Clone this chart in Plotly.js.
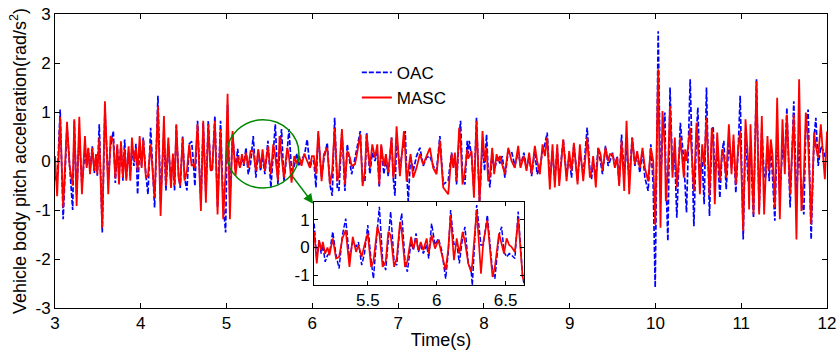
<!DOCTYPE html>
<html>
<head>
<meta charset="utf-8">
<script src="https://cdn.plot.ly/plotly-3.0.1.min.js"></script>
<style>html,body{margin:0;padding:0;background:#fff;}#chart{width:838px;height:350px;}</style>
</head>
<body>
<div id="chart"></div>
<script>
// ---- main plot data (time in s, pitch acceleration in rad/s^2) ----
const time = [
 3.000, 3.025, 3.060, 3.095, 3.140, 3.170, 3.206, 3.225, 3.252, 3.283,
 3.314, 3.349, 3.369, 3.388, 3.408, 3.435, 3.458, 3.478, 3.493, 3.516,
 3.551, 3.582, 3.621, 3.648, 3.680, 3.703, 3.726, 3.746, 3.769, 3.792,
 3.812, 3.831, 3.858, 3.878, 3.897, 3.920, 3.944, 3.963, 3.987, 4.010,
 4.029, 4.060, 4.084, 4.115, 4.161, 4.200, 4.231, 4.270, 4.293, 4.321,
 4.352, 4.375, 4.394, 4.414, 4.441, 4.460, 4.488, 4.511, 4.538, 4.565,
 4.593,
 4.612, 4.631, 4.662, 4.701, 4.728, 4.759, 4.787, 4.814, 4.833, 4.864,
 4.895, 4.930, 4.961, 4.989, 5.012, 5.039, 5.070, 5.105, 5.129, 5.156,
 5.179, 5.202, 5.226, 5.253, 5.280, 5.311, 5.342, 5.369, 5.397, 5.420,
 5.447, 5.482, 5.517, 5.544, 5.568, 5.599, 5.618, 5.641, 5.669, 5.707,
 5.727, 5.758, 5.789, 5.816, 5.847, 5.874, 5.906, 5.940, 5.972, 5.995,
 6.018, 6.042, 6.069,
 6.108, 6.135, 6.174, 6.205, 6.232, 6.260, 6.291, 6.310, 6.345, 6.380,
 6.407, 6.438, 6.458, 6.497, 6.516, 6.559, 6.586, 6.613, 6.633, 6.671,
 6.699, 6.730, 6.757, 6.780, 6.803, 6.834, 6.858, 6.885, 6.924, 6.943,
 6.963, 6.982, 7.021, 7.040, 7.068, 7.083, 7.099, 7.118, 7.145, 7.176,
 7.215, 7.254, 7.293, 7.332, 7.371, 7.409, 7.448, 7.487, 7.526, 7.584,
 7.623, 7.643, 7.662, 7.681, 7.712, 7.728, 7.751, 7.779, 7.806, 7.817,
 7.829, 7.856, 7.884, 7.914, 7.949, 7.984, 8.008, 8.031, 8.050, 8.070,
 8.097, 8.120, 8.148, 8.167, 8.186, 8.214, 8.245, 8.284, 8.322, 8.361,
 8.400, 8.427, 8.466, 8.497, 8.528, 8.556, 8.594, 8.621, 8.653, 8.684,
 8.711, 8.738, 8.769, 8.800, 8.827, 8.855, 8.878, 8.925, 8.964, 8.994,
 9.022, 9.049, 9.092, 9.119, 9.158,
 9.204, 9.236, 9.255, 9.274, 9.305, 9.333, 9.360, 9.383, 9.418, 9.449,
 9.469, 9.500, 9.527, 9.554, 9.577, 9.605, 9.636, 9.663, 9.694, 9.729,
 9.760, 9.787, 9.818, 9.849, 9.877, 9.915, 9.946, 9.974, 9.997, 10.032,
 10.059, 10.082, 10.110, 10.121, 10.145, 10.170, 10.199, 10.226, 10.249, 10.290,
 10.331, 10.347, 10.362, 10.405, 10.448, 10.479, 10.494, 10.518, 10.545, 10.568,
 10.595, 10.630, 10.657, 10.673, 10.692, 10.720, 10.751, 10.778, 10.797, 10.825,
 10.856, 10.887, 10.910, 10.937, 10.964, 10.988, 11.023, 11.050, 11.081, 11.092,
 11.108, 11.143, 11.178, 11.209, 11.240, 11.267, 11.287, 11.306, 11.326, 11.345,
 11.364, 11.392, 11.419, 11.450, 11.481, 11.508, 11.532, 11.570, 11.613, 11.644,
 11.675, 11.702, 11.730, 11.753, 11.780, 11.815, 11.850, 11.870, 11.897, 11.928,
 11.963, 11.975, 12.000
];
const oac = [
 -0.30, -0.45, 1.05, -1.19, 0.70, -0.10, -1.00, 0.82, -0.70, 0.55,
 -0.50, 0.20, -0.10, 0.25, -0.20, 0.30, -0.25, 0.10, -0.30, 0.75,
 -1.46, 1.05, -0.40, 0.30, 0.61, -0.45, 0.30, -0.30, 0.35, -0.40,
 0.44, -0.35, 0.20, -0.30, 0.30, -0.10, 0.35, -0.68, 0.30, -0.10,
 0.48, -0.30, -0.68, 0.68, -0.95, 1.33, -0.82, 0.60, -0.60, 0.35,
 -0.45, 0.10, -0.60, 0.72, -0.30, -0.55, 0.50, -0.35, -0.60, 0.35,
 0.40,
 0.00, -0.51, 0.82, -0.88, 0.78, -0.70, 0.82, -0.14, -0.20, 0.92,
 -0.95, 0.82, -0.85, -1.46, 1.15, -0.80, 0.55, -0.20, 0.25, -0.14,
 0.05, -0.10, 0.27, -0.27, -0.05, 0.51, -0.34, 0.20, -0.20, 0.10,
 -0.27, 0.41, -0.54, 0.10, 0.75, -0.48, 0.20, 0.65, -0.41, 0.20,
 0.65, -0.20, -0.10, 0.15, -0.10, 0.05, 0.10, 0.44, -0.14, 0.00,
 0.00, -0.54, 0.55,
 -0.34, 0.05, 0.37, -0.48, -0.71, 0.88, -0.54, -0.61, 0.61, -0.61,
 0.34, -0.05, -0.27, 0.05, 0.20, 0.61, -0.41, -0.41, 0.58, -0.27,
 0.17, 0.00, 0.20, -0.54, 0.31, -0.27, 0.05, -0.31, 0.48, -0.34,
 -0.71, 0.48, -0.20, 0.10, 0.40, 0.61, -0.20, -0.82, 0.10, -0.20,
 0.10, 0.27, -0.10, 0.07, 0.10, -0.10, -0.20, 0.51, -0.48, -0.40,
 0.17, -0.07, 0.10, -0.48, 0.50, 0.82, -0.30, -0.48, 0.41, 0.15,
 0.41, 0.10, -0.60, 0.88, -0.85, 0.40, -0.20, 0.54, -0.20, -0.54,
 0.20, -0.20, 0.00, 0.07, -0.05, 0.10, -0.34, 0.20, 0.20, -0.10,
 0.20, -0.10, 0.17, -0.14, 0.10, -0.31, 0.20, -0.27, -0.14, 0.20,
 0.34, 0.58, -0.40, 0.20, -0.41, 0.27, -0.40, 0.44, -0.30, 0.10,
 -0.34, 0.34, -0.40, 0.20, -0.30,
 0.68, -0.20, -0.37, 0.00, -0.30, 0.27, 0.00, -0.27, 0.31, -0.10,
 0.00, 0.17, -0.10, 0.10, -0.48, 0.54, -0.30, 0.30, -0.40, 0.48,
 -0.10, 0.14, -0.24, 0.20, -0.34, -0.61, 0.34, -0.50, -2.58, 2.65,
 -0.54, 0.50, 0.99, -0.30, -1.63, 1.50, -0.20, 0.10, -1.16, 0.78,
 0.00, -0.50, -1.05, 1.67, -1.33, 0.60, 1.09, -0.30, 0.00, -0.88,
 1.50, -1.12, 0.50, 0.71, -0.40, 0.30, -0.75, 0.20, 0.41, -0.58,
 0.40, -0.14, 0.40, -0.65, 0.20, 1.33, -1.60, 0.60, -0.41, -0.20,
 0.30, -1.16, 1.67, -1.02, 0.68, -0.30, -0.34, 0.30, -0.41, 0.34,
 -0.20, -1.22, 0.60, -0.68, 0.24, 0.00, 1.09, -0.95, 1.22, -0.80,
 0.40, -0.70, -1.09, 0.70, 1.05, -1.60, 0.50, 0.88, -0.10, 0.30,
 0.20, 0.10, 0.05
];
const masc = [
 0.10, -0.72, 0.90, -0.95, 0.80, -0.10, -0.50, 0.85, -0.92, 0.90,
 -0.68, 0.51, -0.14, 0.27, -0.27, 0.27, -0.20, 0.14, -0.27, 0.48,
 -1.36, 1.22, -0.68, 0.51, 0.40, -0.35, 0.34, -0.48, 0.40, -0.34,
 0.25, -0.40, 0.30, -0.40, 0.48, 0.00, 0.27, -0.20, 0.51, -0.14,
 0.44, -0.35, -0.30, 0.34, -0.75, 1.12, -1.12, 0.92, -0.51, 0.48,
 -0.55, 0.15, -0.50, 0.75, -0.34, -0.50, 0.48, -0.40, -0.20, 0.34,
 -0.10,
 -0.07, -0.14, 0.75, -1.02, 0.82, -0.85, 0.75, -0.20, -0.17, 0.82,
 -1.09, 0.65, -1.19, -0.20, 1.37, -1.19, 0.61, -0.30, 0.10, -0.14,
 0.14, -0.07, 0.17, -0.14, 0.20, 0.20, -0.20, 0.24, -0.14, 0.24,
 -0.20, 0.30, -0.27, 0.34, 0.10, -0.40, 0.51, 0.10, -0.34, 0.27,
 0.10, -0.44, 0.10, -0.05, 0.10, -0.10, 0.15, 0.00, -0.14, 0.10,
 0.10, -0.27, 0.61,
 -0.41, 0.14, 0.27, -0.48, -0.20, 0.68, -0.41, -0.30, 0.65, -0.48,
 0.20, 0.07, -0.10, -0.07, 0.10, 0.54, -0.51, -0.20, 0.54, -0.14,
 0.34, 0.07, 0.34, -0.48, 0.34, -0.10, 0.14, -0.24, 0.48, -0.34,
 -0.10, 0.71, -0.31, 0.10, 0.61, 0.20, -0.41, -0.20, 0.14, -0.34,
 -0.14, 0.14, -0.07, 0.10, 0.27, -0.14, -0.27, 0.41, -0.54, -0.68,
 0.14, -0.14, 0.17, -0.41, 0.68, 0.40, -0.48, -0.20, 0.24, 0.05,
 0.10, 0.20, -0.75, 0.82, -0.85, 0.61, 0.00, 0.27, -0.41, -0.30,
 0.27, -0.27, 0.14, 0.00, 0.10, -0.10, -0.27, 0.27, 0.00, -0.14,
 0.31, -0.14, 0.10, -0.20, 0.17, -0.27, 0.31, 0.00, -0.27, 0.34,
 0.10, 0.48, -0.58, 0.34, -0.54, 0.34, -0.51, 0.44, -0.41, 0.20,
 -0.20, 0.37, -0.48, 0.34, -0.41,
 0.48, -0.34, -0.20, 0.10, -0.54, 0.27, 0.14, -0.20, 0.27, 0.00,
 0.14, 0.14, -0.14, 0.07, -0.51, 0.41, -0.61, 0.82, -0.68, 0.48,
 -0.07, 0.20, -0.14, 0.27, -0.14, -0.41, 0.27, 0.00, -1.30, 1.87,
 -1.36, 1.02, 0.30, -0.82, -0.20, 1.12, -0.34, 0.48, -0.54, 0.48,
 -0.34, 0.24, 0.00, 0.68, -0.61, 0.78, 0.40, -0.68, 0.34, -0.10,
 0.88, -0.71, 0.68, 0.40, -0.88, 0.58, -0.40, 0.24, 0.10, -0.34,
 0.75, -0.27, 0.54, -0.48, 0.27, 0.61, -1.43, 0.85, 0.00, -0.99,
 0.75, -1.09, 1.63, -1.09, 0.92, -1.09, -0.20, 0.51, -0.20, 0.44,
 0.14, -0.95, 1.29, -1.19, 0.85, -0.27, 0.95, -0.68, 0.95, -1.60,
 1.67, -1.02, -0.30, 0.99, 0.40, -1.29, 0.58, 0.30, 0.07, 0.75,
 -0.10, -0.37, 0.60
];

// ---- inset (zoomed 5.1 - 6.6 s) data ----
const insetTime = [
 5.111, 5.130, 5.147, 5.162, 5.174, 5.191, 5.208, 5.222, 5.246, 5.270,
 5.292, 5.316, 5.340, 5.367, 5.391, 5.415, 5.432, 5.456, 5.476, 5.500,
 5.524, 5.541, 5.570, 5.584, 5.608, 5.630, 5.649, 5.666, 5.691, 5.710,
 5.734, 5.746, 5.770, 5.787, 5.814, 5.831, 5.850, 5.867, 5.884, 5.903,
 5.927, 5.942, 5.963, 5.988, 6.012, 6.036, 6.065, 6.084, 6.101, 6.125,
 6.145, 6.164, 6.188, 6.205, 6.229, 6.249, 6.258, 6.290, 6.321, 6.338,
 6.367, 6.405, 6.422, 6.452, 6.471, 6.488, 6.507, 6.526, 6.543, 6.567,
 6.591, 6.623, 6.633
];
const insetOac = [
 0.87, -0.40, 0.27, -0.22, 0.09, -0.52, -0.28, -0.22, 0.57, -0.28,
 -0.76, 0.45, 1.05, -0.40, 0.20, 0.02, 0.20, -0.64, -0.22, 0.81,
 -0.46, -1.13, 0.70, 1.48, -0.46, -0.82, 0.30, 1.30, -0.52, -0.64,
 0.81, 1.24, -0.46, -0.88, 0.20, -0.10, 0.51, -0.16, 0.09, -0.22,
 0.10, -0.40, 0.87, 0.09, 0.33, -0.10, -1.13, -0.16, 1.36, 0.10,
 0.20, -0.58, 0.39, 0.75, -0.58, -0.80, -1.37, 1.54, 0.09, 0.09,
 1.18, -0.88, -1.13, 0.45, 0.75, -0.16, -0.34, -0.22, -0.28, -0.40,
 1.30, -1.07, -1.30
];
const insetMasc = [
 0.57, -0.58, 0.27, -0.10, 0.20, -0.22, 0.00, -0.28, 0.33, -0.40,
 -0.34, 0.33, 0.63, -0.70, 0.39, -0.16, 0.09, -0.34, 0.09, 0.51,
 -0.70, -0.52, 0.75, 0.50, -0.70, -0.52, 0.57, 0.45, -0.70, -0.40,
 0.93, 0.60, -0.70, -0.50, 0.39, -0.04, 0.33, -0.10, 0.20, -0.10,
 0.33, -0.22, 0.45, -0.04, 0.27, -0.22, -0.82, -0.04, 1.18, -0.46,
 0.33, -0.22, 0.57, 0.20, -0.58, -0.88, -0.60, 1.36, -0.95, 0.20,
 0.99, -1.07, -0.70, 0.51, 0.09, -0.22, 0.33, 0.09, 0.02, -0.16,
 1.05, -1.07, -1.20
];

// ---- ticks and labels ----
const xTicks = [3, 4, 5, 6, 7, 8, 9, 10, 11, 12];
const xTickText = ['3', '4', '5', '6', '7', '8', '9', '10', '11', '12'];
const yTicks = [-3, -2, -1, 0, 1, 2, 3];
const yTickText = ['-3', '-2', '-1', '0', '1', '2', '3'];
const insetXTicks = [5.5, 6, 6.5];
const insetXTickText = ['5.5', '6', '6.5'];
const insetYTicks = [-1, 0, 1];
const insetYTickText = ['-1', '0', '1'];
const seriesNames = ['OAC', 'MASC'];

const BLUE = '#0000ff', RED = '#ff0000', GREEN = 'rgb(0,135,0)';
const FONT = 'Arial, "Liberation Sans", sans-serif';

const traces = [
  {x: time, y: oac, name: seriesNames[0], type: 'scatter', mode: 'lines',
   line: {color: BLUE, width: 1.7, dash: '5px,2px'}, xaxis: 'x', yaxis: 'y'},
  {x: time, y: masc, name: seriesNames[1], type: 'scatter', mode: 'lines',
   line: {color: RED, width: 1.8}, xaxis: 'x', yaxis: 'y'},
  {x: insetTime, y: insetOac, name: seriesNames[0], type: 'scatter', mode: 'lines', showlegend: false,
   line: {color: BLUE, width: 1.5, dash: '5px,2px'}, xaxis: 'x2', yaxis: 'y2'},
  {x: insetTime, y: insetMasc, name: seriesNames[1], type: 'scatter', mode: 'lines', showlegend: false,
   line: {color: RED, width: 1.7}, xaxis: 'x2', yaxis: 'y2'}
];

const axisCommon = {
  showline: true, linecolor: 'black', linewidth: 1, mirror: 'ticks',
  ticks: 'inside', tickcolor: 'black', ticklen: 5, tickwidth: 1,
  showgrid: false, zeroline: false, fixedrange: true
};

const layout = {
  width: 838, height: 350,
  margin: {l: 55, r: 11, t: 14, b: 42},
  paper_bgcolor: 'white', plot_bgcolor: 'white',
  font: {family: FONT, size: 17, color: 'black'},
  showlegend: true,
  legend: {x: 0.391, y: 0.861, xanchor: 'left', yanchor: 'top',
           bgcolor: 'rgba(0,0,0,0)', borderwidth: 0, font: {family: FONT, size: 17}},
  xaxis: Object.assign({}, axisCommon, {
    domain: [0, 1], range: [3, 12], tickvals: xTicks, ticktext: xTickText,
    tickfont: {size: 17}, anchor: 'y',
    title: {text: 'Time(s)', font: {size: 18}, standoff: 4}
  }),
  yaxis: Object.assign({}, axisCommon, {
    domain: [0, 1], range: [-3, 3], tickvals: yTicks, ticktext: yTickText,
    tickfont: {size: 17}, anchor: 'x',
    title: {text: 'Vehicle body pitch acceleration(rad/s<sup>2</sup>)', font: {size: 18}, standoff: 4}
  }),
  xaxis2: Object.assign({}, axisCommon, {
    domain: [0.3355, 0.6075], range: [5.11, 6.633], anchor: 'y2',
    tickvals: insetXTicks, ticktext: insetXTickText, ticklen: 4, tickfont: {size: 17}
  }),
  yaxis2: Object.assign({}, axisCommon, {
    domain: [0.0782, 0.3605], range: [-1.36, 1.65], anchor: 'x2',
    tickvals: insetYTicks, ticktext: insetYTickText, ticklen: 4, tickfont: {size: 17}
  }),
  shapes: [
    {type: 'circle', xref: 'x', yref: 'y', x0: 5.005, x1: 5.844, y0: -0.55, y1: 0.84,
     line: {color: GREEN, width: 1.5}, layer: 'above'}
  ],
  annotations: [
    {xref: 'x', yref: 'y', axref: 'x', ayref: 'y', x: 6.01, y: -0.87, ax: 5.759, ay: -0.29,
     text: '', showarrow: true, arrowhead: 2, arrowsize: 1.3, arrowwidth: 1.5, arrowcolor: GREEN}
  ]
};

Plotly.newPlot('chart', traces, layout, {staticPlot: true, displayModeBar: false});
</script>
</body>
</html>
